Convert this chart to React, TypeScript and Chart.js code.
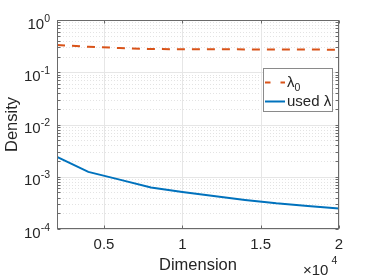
import React, { useEffect, useRef } from "react";
import { Chart, registerables } from "chart.js";

Chart.register(...registerables);

const dimensions = [2000, 4000, 6000, 8000, 10000, 12000, 14000, 16000, 18000, 20000];
const lambda0 = [0.332, 0.308, 0.291, 0.278, 0.276, 0.275, 0.274, 0.273, 0.272, 0.27];
const usedLambda = [2.4e-3, 1.24e-3, 8.8e-4, 6.25e-4, 5.1e-4, 4.29e-4, 3.6e-4, 3.1e-4, 2.77e-4, 2.46e-4];
const xTickValues = [5000, 10000, 15000, 20000];
const xTickLabels = ["0.5", "1", "1.5", "2"];
const yTickExponents = [-4, -3, -2, -1, 0];
const seriesNames = ["λ", "used λ"];
const xAxisTitle = "Dimension";
const yAxisTitle = "Density";

const ORANGE = "#D95319";
const BLUE = "#0072BD";
const FONT = "Liberation Sans, Arial, sans-serif";
const TXT = "#262626";

const decor = {
  id: "matlabDecor",
  beforeDatasetsDraw(chart: any) {
    const { ctx, chartArea: a, scales } = chart;
    const xs = scales.x, ys = scales.y;
    ctx.save();
    // minor grid (log y)
    ctx.strokeStyle = "rgba(0,0,0,0.11)";
    ctx.lineWidth = 1;
    ctx.setLineDash([1, 2]);
    for (let e = -4; e < 0; e++) {
      for (let m = 2; m <= 9; m++) {
        const py = Math.round(ys.getPixelForValue(m * Math.pow(10, e))) + 0.5;
        ctx.beginPath();
        ctx.moveTo(a.left, py);
        ctx.lineTo(a.right, py);
        ctx.stroke();
      }
    }
    ctx.setLineDash([]);
    // major grid
    ctx.strokeStyle = "#e6e6e6";
    yTickExponents.forEach((e) => {
      const py = Math.round(ys.getPixelForValue(Math.pow(10, e))) + 0.5;
      ctx.beginPath();
      ctx.moveTo(a.left, py);
      ctx.lineTo(a.right, py);
      ctx.stroke();
    });
    xTickValues.forEach((v) => {
      const px = Math.round(xs.getPixelForValue(v)) + 0.5;
      ctx.beginPath();
      ctx.moveTo(px, a.top);
      ctx.lineTo(px, a.bottom);
      ctx.stroke();
    });
    ctx.restore();
  },
  afterDatasetsDraw(chart: any) {
    const { ctx, chartArea: a, scales } = chart;
    const xs = scales.x, ys = scales.y;
    ctx.save();
    const L = Math.round(a.left) + 0.5;
    const R = Math.round(a.right) - 0.5;
    const T = Math.round(a.top) + 0.5;
    const B = Math.round(a.bottom) - 0.5;
    ctx.strokeStyle = "#6a6a6a";
    ctx.lineWidth = 1;
    ctx.strokeRect(L, T, R - L, B - T);
    const tl = 3;
    // y ticks (major+minor) on left and right
    ctx.beginPath();
    for (let e = -4; e <= 0; e++) {
      for (let m = 1; m <= 9; m++) {
        const v = m * Math.pow(10, e);
        if (v > 1) break;
        const py = Math.round(ys.getPixelForValue(v)) + 0.5;
        ctx.moveTo(L, py);
        ctx.lineTo(L + tl, py);
        ctx.moveTo(R, py);
        ctx.lineTo(R - tl, py);
      }
    }
    xTickValues.forEach((v) => {
      const px = Math.round(xs.getPixelForValue(v)) + 0.5;
      ctx.moveTo(px, B);
      ctx.lineTo(px, B - tl);
      ctx.moveTo(px, T);
      ctx.lineTo(px, T + tl);
    });
    ctx.stroke();

    ctx.fillStyle = TXT;
    // y tick labels
    yTickExponents.forEach((e) => {
      const py = ys.getPixelForValue(Math.pow(10, e));
      const exp = String(e);
      ctx.font = `10.5px ${FONT}`;
      const we = ctx.measureText(exp).width;
      ctx.font = `15px ${FONT}`;
      const wb = ctx.measureText("10").width;
      const right = a.left - 7;
      ctx.textAlign = "left";
      ctx.textBaseline = "alphabetic";
      ctx.fillText("10", right - we - wb, py + 8.5);
      ctx.font = `10.5px ${FONT}`;
      ctx.fillText(exp, right - we, py + 1.5);
    });
    // x tick labels
    ctx.font = `15px ${FONT}`;
    ctx.textAlign = "center";
    xTickValues.forEach((v, i) => {
      ctx.fillText(xTickLabels[i], xs.getPixelForValue(v), 248.5);
    });
    // exponent multiplier
    ctx.textAlign = "left";
    ctx.fillText("\u00d710", 303, 274.5);
    ctx.font = `10.5px ${FONT}`;
    ctx.fillText("4", 331.5, 263.5);
    // axis titles
    ctx.font = `16.5px ${FONT}`;
    ctx.textAlign = "center";
    ctx.fillText(xAxisTitle, (a.left + a.right) / 2, 270);
    ctx.save();
    ctx.translate(17, (a.top + a.bottom) / 2);
    ctx.rotate(-Math.PI / 2);
    ctx.fillText(yAxisTitle, 0, 0);
    ctx.restore();

    // legend
    const bx = 263.5, by = 68.5, bw = 69, bh = 43;
    ctx.fillStyle = "#ffffff";
    ctx.fillRect(bx, by, bw, bh);
    ctx.strokeStyle = "#8a8a8a";
    ctx.strokeRect(bx, by, bw, bh);
    ctx.lineWidth = 2;
    ctx.strokeStyle = ORANGE;
    ctx.beginPath();
    ctx.moveTo(265, 82.5);
    ctx.lineTo(270.5, 82.5);
    ctx.moveTo(280.5, 82.5);
    ctx.lineTo(285, 82.5);
    ctx.stroke();
    ctx.strokeStyle = BLUE;
    ctx.beginPath();
    ctx.moveTo(265, 101.5);
    ctx.lineTo(285, 101.5);
    ctx.stroke();
    ctx.fillStyle = TXT;
    ctx.textAlign = "left";
    ctx.font = `15px ${FONT}`;
    ctx.fillText(seriesNames[0], 287, 86.5);
    const wl = ctx.measureText(seriesNames[0]).width;
    ctx.font = `10.5px ${FONT}`;
    ctx.fillText("0", 287 + wl, 90.5);
    ctx.font = `15px ${FONT}`;
    ctx.fillText(seriesNames[1], 287, 106);
    ctx.restore();
  },
};

export default function App() {
  const ref = useRef<HTMLCanvasElement>(null);
  useEffect(() => {
    document.body.style.margin = "0";
    const canvas = ref.current!;
    const chart = new Chart(canvas, {
      type: "line",
      data: {
        datasets: [
          {
            label: "λ0",
            data: dimensions.map((d, i) => ({ x: d, y: lambda0[i] })),
            borderColor: ORANGE,
            borderWidth: 2,
            borderDash: [8, 7],
            pointRadius: 0,
            tension: 0,
            fill: false,
          },
          {
            label: "used λ",
            data: dimensions.map((d, i) => ({ x: d, y: usedLambda[i] })),
            borderColor: BLUE,
            borderWidth: 2,
            pointRadius: 0,
            tension: 0,
            fill: false,
          },
        ],
      },
      options: {
        responsive: false,
        animation: false,
        devicePixelRatio: 1,
        layout: { padding: { left: 57, right: 35, top: 20, bottom: 47 } },
        plugins: { legend: { display: false }, tooltip: { enabled: false } },
        scales: {
          x: { type: "linear", min: 2000, max: 20000, display: false },
          y: { type: "logarithmic", min: 1e-4, max: 1, display: false },
        },
      },
      plugins: [decor],
    });
    return () => chart.destroy();
  }, []);
  return (
    <canvas
      ref={ref}
      width={374}
      height={276}
      style={{ display: "block", width: 374, height: 276 }}
    />
  );
}
